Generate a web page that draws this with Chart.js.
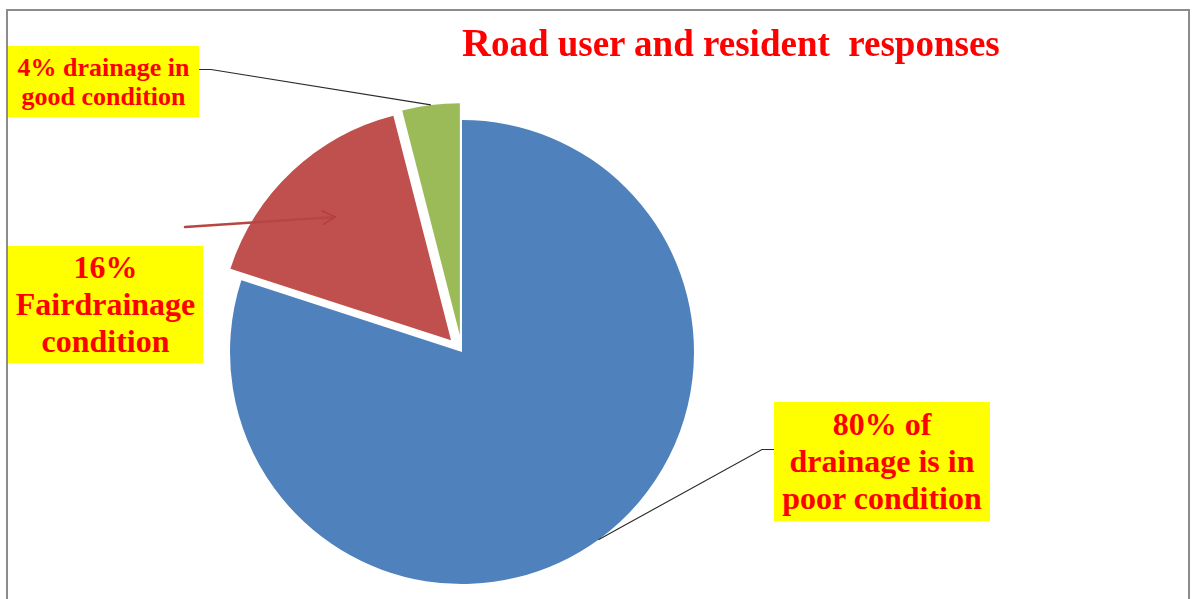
<!DOCTYPE html>
<html>
<head>
<meta charset="utf-8">
<script src="https://cdn.jsdelivr.net/npm/chart.js@4.4.1/dist/chart.umd.min.js"></script>
<style>
  html, body { margin: 0; padding: 0; background: #fff; }
  #wrap { position: relative; width: 1195px; height: 599px; overflow: hidden; }
  #frame { position: absolute; left: 6px; top: 9px; width: 1184px; height: 640px; border: 2px solid #8c8c8c; box-sizing: border-box; }
  canvas { position: absolute; left: 0; top: 0; }
  .lbl { position: absolute; background: #ffff00; color: #ff0000; font-family: "Liberation Serif", "Times New Roman", serif; font-weight: bold; text-align: center; display: flex; align-items: center; justify-content: center; white-space: nowrap; }
  #title { position: absolute; left: 462px; top: 23px; color: #ff0000; font-family: "Liberation Serif", "Times New Roman", serif; font-weight: bold; font-size: 37px; line-height: 1; white-space: pre; }
  #title .big { font-size: 40px; }
</style>
</head>
<body>
<div id="wrap">
  <div id="frame"></div>
  <canvas id="c" width="1195" height="599"></canvas>
  <div id="title"><span class="big">R</span>oad user and resident  responses</div>
  <div class="lbl" id="lblGood" style="left:8px;top:46px;width:191px;height:71px;font-size:26px;line-height:29px;"></div>
  <div class="lbl" id="lblFair" style="left:8px;top:246px;width:195px;height:117px;font-size:32px;line-height:37px;"></div>
  <div class="lbl" id="lblPoor" style="left:774px;top:402px;width:216px;height:119px;font-size:32px;line-height:37px;"></div>
</div>
<script>
// ---- data ----
const categories = ['Poor condition', 'Fair condition', 'Good condition'];
const responses = [80, 16, 4];
const labelTexts = [
  ['80% of', 'drainage is in', 'poor condition'],
  ['16%', 'Fairdrainage', 'condition'],
  ['4% drainage in', 'good condition']
];

// ---- styles ----
const sliceColors = ['#4f81bd', '#c0504d', '#9bbb59'];
const explode = [0, 16, 17];

document.getElementById('lblPoor').innerHTML = labelTexts[0].join('<br>');
document.getElementById('lblFair').innerHTML = labelTexts[1].join('<br>');
document.getElementById('lblGood').innerHTML = labelTexts[2].join('<br>');

function edgePoint(arc, i, frac) {
  const mid = (arc.startAngle + arc.endAngle) / 2;
  const d = explode[i] + arc.outerRadius * frac;
  return { x: arc.x + Math.cos(mid) * d, y: arc.y + Math.sin(mid) * d };
}

const explodePlugin = {
  id: 'explode',
  beforeDatasetDraw(chart, args) {
    const ctx = chart.ctx;
    args.meta.data.forEach((arc, i) => {
      const mid = (arc.startAngle + arc.endAngle) / 2;
      ctx.save();
      ctx.translate(Math.cos(mid) * explode[i], Math.sin(mid) * explode[i]);
      arc.draw(ctx);
      ctx.restore();
    });
    return false;
  },
  afterDraw(chart) {
    const ctx = chart.ctx;
    const arcs = chart.getDatasetMeta(0).data;
    ctx.save();
    // leader to green slice
    const g = edgePoint(arcs[2], 2, 1.0);
    ctx.strokeStyle = '#2b2b2b';
    ctx.lineWidth = 1.2;
    ctx.beginPath();
    ctx.moveTo(199, 69.5);
    ctx.lineTo(211, 69.5);
    ctx.lineTo(g.x, g.y);
    ctx.stroke();
    // leader to blue slice
    const b = edgePoint(arcs[0], 0, 1.0);
    ctx.beginPath();
    ctx.moveTo(774, 449.5);
    ctx.lineTo(762, 449.5);
    ctx.lineTo(b.x, b.y);
    ctx.stroke();
    // arrow into red slice
    const r = edgePoint(arcs[1], 1, 0.73);
    const sx = 185, sy = 227;
    ctx.strokeStyle = '#b84541';
    ctx.lineWidth = 2.5;
    ctx.lineCap = 'round';
    ctx.beginPath();
    ctx.moveTo(sx, sy);
    ctx.lineTo(r.x, r.y);
    ctx.stroke();
    const ang = Math.atan2(r.y - sy, r.x - sx);
    const hl = 14, ha = 0.5;
    ctx.strokeStyle = '#b0403c';
    ctx.lineWidth = 1.5;
    ctx.beginPath();
    ctx.moveTo(r.x - hl * Math.cos(ang - ha), r.y - hl * Math.sin(ang - ha));
    ctx.lineTo(r.x, r.y);
    ctx.lineTo(r.x - hl * Math.cos(ang + ha), r.y - hl * Math.sin(ang + ha));
    ctx.stroke();
    ctx.restore();
  }
};

new Chart(document.getElementById('c'), {
  type: 'pie',
  data: {
    labels: categories,
    datasets: [{
      data: responses,
      backgroundColor: sliceColors,
      borderWidth: 0,
      hoverOffset: 0
    }]
  },
  options: {
    responsive: false,
    animation: false,
    radius: 232,
    layout: { padding: { top: 105, bottom: 0, left: 0, right: 271 } },
    plugins: { legend: { display: false }, tooltip: { enabled: false } },
    events: []
  },
  plugins: [explodePlugin]
});
</script>
</body>
</html>
